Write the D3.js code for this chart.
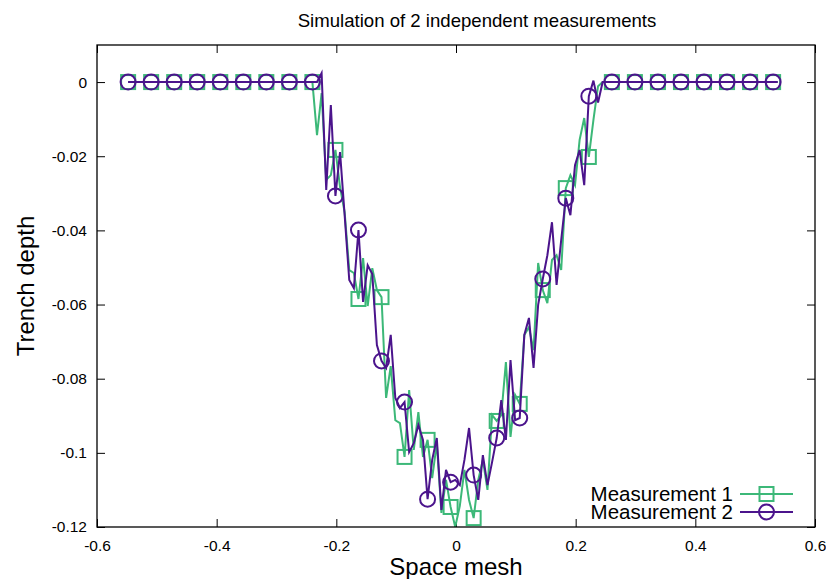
<!DOCTYPE html>
<html>
<head>
<meta charset="utf-8">
<script src="https://cdn.jsdelivr.net/npm/d3@7/dist/d3.min.js"></script>
<style>
  html, body { margin: 0; padding: 0; background: #fff; }
  svg { display: block; font-family: "Liberation Sans", Arial, sans-serif; }
</style>
</head>
<body>
<svg id="chart" width="826" height="579"></svg>
<script>
// ---------------- data ----------------
const titleText = "Simulation of 2 independent measurements";
const xLabel = "Space mesh";
const yLabel = "Trench depth";
const seriesNames = ["Measurement 1", "Measurement 2"];

const xTicks = [-0.6, -0.4, -0.2, 0, 0.2, 0.4, 0.6];
const xTickLabels = ["-0.6", "-0.4", "-0.2", "0", "0.2", "0.4", "0.6"];
const yTicks = [0, -0.02, -0.04, -0.06, -0.08, -0.1, -0.12];
const yTickLabels = ["0", "-0.02", "-0.04", "-0.06", "-0.08", "-0.1", "-0.12"];

// space mesh (one value per sample)
const spaceMesh = [
  -0.5480, -0.5403, -0.5326, -0.5249, -0.5172, -0.5095, -0.5018, -0.4941, -0.4864, -0.4787,
  -0.4710, -0.4633, -0.4556, -0.4479, -0.4402, -0.4325, -0.4248, -0.4171, -0.4094, -0.4017,
  -0.3940, -0.3863, -0.3786, -0.3709, -0.3632, -0.3555, -0.3478, -0.3401, -0.3324, -0.3247,
  -0.3170, -0.3093, -0.3016, -0.2939, -0.2862, -0.2785, -0.2708, -0.2631, -0.2554, -0.2477,
  -0.2400, -0.2323, -0.2246, -0.2169, -0.2092, -0.2015, -0.1938, -0.1861, -0.1784, -0.1707,
  -0.1630, -0.1553, -0.1476, -0.1399, -0.1322, -0.1245, -0.1168, -0.1091, -0.1014, -0.0937,
  -0.0860, -0.0783, -0.0706, -0.0629, -0.0552, -0.0475, -0.0398, -0.0321, -0.0244, -0.0167,
  -0.0090, -0.0013, 0.0064, 0.0141, 0.0218, 0.0295, 0.0372, 0.0449, 0.0526, 0.0603,
  0.0680, 0.0757, 0.0834, 0.0911, 0.0988, 0.1065, 0.1142, 0.1219, 0.1296, 0.1373,
  0.1450, 0.1527, 0.1604, 0.1681, 0.1758, 0.1835, 0.1912, 0.1989, 0.2066, 0.2143,
  0.2220, 0.2297, 0.2374, 0.2451, 0.2528, 0.2605, 0.2682, 0.2759, 0.2836, 0.2913,
  0.2990, 0.3067, 0.3144, 0.3221, 0.3298, 0.3375, 0.3452, 0.3529, 0.3606, 0.3683,
  0.3760, 0.3837, 0.3914, 0.3991, 0.4068, 0.4145, 0.4222, 0.4299, 0.4376, 0.4453,
  0.4530, 0.4607, 0.4684, 0.4761, 0.4838, 0.4915, 0.4992, 0.5069, 0.5146, 0.5223,
  0.5300, 0.5377
];

// Measurement 1 depth
const depth1 = [
  0, 0, 0, 0, 0, 0, 0, 0, 0, 0,
  0, 0, 0, 0, 0, 0, 0, 0, 0, 0,
  0, 0, 0, 0, 0, 0, 0, 0, 0, 0,
  0, 0, 0, 0, 0, 0, 0, 0, 0, 0,
  0, -0.0143, -0.0030, -0.0264, -0.0251, -0.0183, -0.0283, -0.0351, -0.0507, -0.0515,
  -0.0585, -0.0475, -0.0604, -0.0502, -0.0561, -0.0580, -0.0852, -0.0766, -0.0912, -0.0920,
  -0.1011, -0.0831, -0.0992, -0.0890, -0.1011, -0.0965, -0.1068, -0.0974, -0.1162, -0.1073,
  -0.1146, -0.1200, -0.1143, -0.1046, -0.1127, -0.1176, -0.1073, -0.1019, -0.1100, -0.0898,
  -0.0914, -0.0898, -0.0755, -0.0957, -0.0844, -0.0868, -0.0682, -0.0661, -0.0723, -0.0488,
  -0.0561, -0.0596, -0.0480, -0.0467, -0.0507, -0.0286, -0.0251, -0.0278, -0.0156, -0.0097,
  -0.0202, -0.0102, -0.0011, 0, 0, 0, 0, 0, 0, 0,
  0, 0, 0, 0, 0, 0, 0, 0, 0, 0,
  0, 0, 0, 0, 0, 0, 0, 0, 0, 0,
  0, 0, 0, 0, 0, 0, 0, 0, 0, 0,
  0, 0
];

// Measurement 2 depth
const depth2 = [
  0, 0, 0, 0, 0, 0, 0, 0, 0, 0,
  0, 0, 0, 0, 0, 0, 0, 0, 0, 0,
  0, 0, 0, 0, 0, 0, 0, 0, 0, 0,
  0, 0, 0, 0, 0, 0, 0, 0, 0, 0,
  0, 0, 0.0024, -0.0291, -0.0062, -0.0307, -0.0189, -0.0359, -0.0534, -0.0556,
  -0.0399, -0.0593, -0.0494, -0.0518, -0.0709, -0.0752, -0.0771, -0.0682, -0.0852, -0.0879,
  -0.0863, -0.0998, -0.0974, -0.0925, -0.0965, -0.1125, -0.1019, -0.0960, -0.1154, -0.1046,
  -0.1079, -0.1073, -0.1087, -0.1019, -0.0933, -0.1060, -0.1127, -0.1006, -0.1087, -0.1025,
  -0.0960, -0.0858, -0.0965, -0.0750, -0.0912, -0.0906, -0.0682, -0.0636, -0.0771, -0.0601,
  -0.0531, -0.0467, -0.0378, -0.0547, -0.0426, -0.0313, -0.0359, -0.0224, -0.0183, -0.0278,
  -0.0038, 0.0004, -0.0055, 0, 0, 0, 0, 0, 0, 0,
  0, 0, 0, 0, 0, 0, 0, 0, 0, 0,
  0, 0, 0, 0, 0, 0, 0, 0, 0, 0,
  0, 0, 0, 0, 0, 0, 0, 0, 0, 0,
  0, 0
];

// ---------------- chart ----------------
const W = 826, H = 579;
const margin = { left: 97, right: 11, top: 45, bottom: 52 };
const plotW = W - margin.left - margin.right;
const plotH = H - margin.top - margin.bottom;
const colors = ["#3cb878", "#4b148c"];
const markerEvery = 5;
const fontFam = "'Liberation Sans', Arial, sans-serif";

const svg = d3.select("#chart");
const x = d3.scaleLinear().domain([-0.6, 0.6]).range([margin.left, margin.left + plotW]);
const y = d3.scaleLinear().domain([-0.12, 0.01]).range([margin.top + plotH, margin.top]);

// title
svg.append("text")
  .attr("x", 477)
  .attr("y", 27)
  .attr("text-anchor", "middle")
  .attr("font-size", 18.6)
  .attr("fill", "#000")
  .text(titleText);

// axes with inward ticks (gnuplot style, mirrored)
const tickLen = 8;
const xAxisB = d3.axisBottom(x).tickValues(xTicks).tickFormat((d, i) => xTickLabels[i]).tickSizeInner(-tickLen).tickSizeOuter(0).tickPadding(13);
const xAxisT = d3.axisTop(x).tickValues(xTicks).tickFormat("").tickSizeInner(-tickLen).tickSizeOuter(0);
const yAxisL = d3.axisLeft(y).tickValues(yTicks).tickFormat((d, i) => yTickLabels[i]).tickSizeInner(-tickLen).tickSizeOuter(0).tickPadding(10);
const yAxisR = d3.axisRight(y).tickValues(yTicks).tickFormat("").tickSizeInner(-tickLen).tickSizeOuter(0);

function styleAxis(g) {
  g.select(".domain").remove();
  g.selectAll(".tick line").attr("stroke", "#000").attr("stroke-width", 1);
  g.selectAll(".tick text").attr("fill", "#000").attr("font-size", 15.5)
    .attr("font-family", fontFam);
}

svg.append("g").attr("transform", `translate(0,${margin.top + plotH})`).call(xAxisB).call(styleAxis);
svg.append("g").attr("transform", `translate(0,${margin.top})`).call(xAxisT).call(styleAxis);
svg.append("g").attr("transform", `translate(${margin.left},0)`).call(yAxisL).call(styleAxis);
svg.append("g").attr("transform", `translate(${margin.left + plotW},0)`).call(yAxisR).call(styleAxis);

// data
const series = [depth1, depth2].map(arr =>
  spaceMesh.map((xv, i) => ({ x: xv, y: arr[i], i })).filter(d => d.y !== undefined));

const clipId = "plotclip";
svg.append("clipPath").attr("id", clipId).append("rect")
  .attr("x", margin.left).attr("y", margin.top).attr("width", plotW).attr("height", plotH);

const line = d3.line().x(d => x(d.x)).y(d => y(d.y));
const plotG = svg.append("g").attr("clip-path", `url(#${clipId})`);

const sqSize = 14, circR = 7.5;

function drawMarker(g, kind, cx, cy, color) {
  if (kind === 0) {
    g.append("rect").attr("x", cx - sqSize / 2).attr("y", cy - sqSize / 2)
      .attr("width", sqSize).attr("height", sqSize)
      .attr("fill", "none").attr("stroke", color).attr("stroke-width", 2);
  } else {
    g.append("circle").attr("cx", cx).attr("cy", cy).attr("r", circR)
      .attr("fill", "none").attr("stroke", color).attr("stroke-width", 2);
  }
}

series.forEach((data, s) => {
  const g = plotG.append("g");
  g.append("path").datum(data).attr("d", line)
    .attr("fill", "none").attr("stroke", colors[s]).attr("stroke-width", 2)
    .attr("stroke-linejoin", "miter");
  data.filter(d => d.i % markerEvery === 0).forEach(d => {
    drawMarker(g, s, x(d.x), y(d.y), colors[s]);
  });
});

// frame
svg.append("rect").attr("x", margin.left).attr("y", margin.top)
  .attr("width", plotW).attr("height", plotH)
  .attr("fill", "none").attr("stroke", "#000").attr("stroke-width", 1.3);

// axis labels
svg.append("text")
  .attr("x", x(0)).attr("y", 574.5)
  .attr("text-anchor", "middle").attr("font-size", 24).attr("fill", "#000")
  .text(xLabel);
svg.append("text")
  .attr("transform", `translate(34,${(margin.top + margin.top + plotH) / 2}) rotate(-90)`)
  .attr("text-anchor", "middle").attr("font-size", 24).attr("fill", "#000")
  .text(yLabel);

// legend
const legRight = 733;
const legRows = [494, 512];
seriesNames.forEach((name, s) => {
  const cy = legRows[s];
  svg.append("text").attr("x", legRight).attr("y", cy).attr("dy", "0.35em")
    .attr("text-anchor", "end").attr("font-size", 20.5).attr("fill", "#000").text(name);
  const g = svg.append("g");
  g.append("line").attr("x1", 740).attr("x2", 793).attr("y1", cy).attr("y2", cy)
    .attr("stroke", colors[s]).attr("stroke-width", 2);
  drawMarker(g, s, 766.5, cy, colors[s]);
});
</script>
</body>
</html>
